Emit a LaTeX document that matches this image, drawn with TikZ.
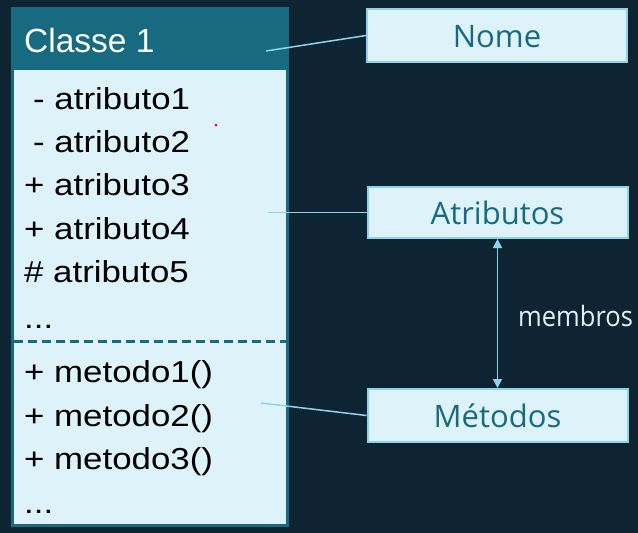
\documentclass[tikz,border=0pt]{standalone}
\usepackage{fontspec}
\usetikzlibrary{arrows.meta}
\newfontfamily\clsfont{Liberation Sans}
\newfontfamily\attrfont[FakeStretch=1.15]{Liberation Sans}
\newfontfamily\lblfont{Open Sans}
\newfontfamily\membfont[FakeStretch=0.91]{Open Sans}
\definecolor{bgc}{HTML}{0F2432}
\definecolor{teal}{HTML}{176A80}
\definecolor{lightfill}{HTML}{DEF2F9}
\definecolor{boxline}{HTML}{8ED3EE}
\tikzset{
  attr/.style={anchor=base west, inner sep=0pt, font=\attrfont\fontsize{30.3}{34}\selectfont, text=black},
  tag/.style={draw=boxline, line width=2pt, fill=lightfill, minimum width=260pt, inner sep=0pt,
    text height=23pt, text depth=0pt, text=teal, font=\lblfont\fontsize{31}{34}\selectfont},
  conn/.style={draw=boxline, line width=1.5pt}
}
\begin{document}
\begin{tikzpicture}[x=1pt,y=-1pt]
\fill[bgc] (0,0) rectangle (638,533);
\useasboundingbox (0,0) rectangle (638,533);
% class frame
\fill[teal] (11,7) rectangle (289,527);
\fill[lightfill] (14,70) rectangle (286,524);
\draw[teal, line width=3pt, dash pattern=on 9pt off 5pt] (14,341) -- (286,341);
\node[anchor=base west, inner sep=0pt, text=white, font=\clsfont\fontsize{33.5}{36}\selectfont] (cls) at (24,52) {Classe 1};
\node[attr] (a1) at (33,109) {- atributo1};
\node[attr] (a2) at (33,152) {- atributo2};
\node[attr] (a3) at (24,195) {+ atributo3};
\node[attr] (a4) at (24,239) {+ atributo4};
\node[attr] (a5) at (24,282) {\# atributo5};
\node[attr] (a6) at (24,328) {...};
\node[attr] (m1) at (24,382) {+ metodo1()};
\node[attr] (m2) at (24,426) {+ metodo2()};
\node[attr] (m3) at (24,469) {+ metodo3()};
\node[attr] (m4) at (24,513) {...};
\fill[red] (216,125) circle (1.5pt);
% tags
\node[tag, minimum height=53pt] (nome) at (497,35.5) {Nome};
\node[tag, minimum height=51pt] (atr) at (497.5,212.5) {Atributos};
\node[tag, minimum height=53pt] (met) at (497.5,415.5) {Métodos};
\coordinate (cn) at (266,51);
\coordinate (ca) at (268,212.5);
\coordinate (cm) at (261,403);
\draw[conn] (cn) -- (nome.west);
\draw[conn] (ca) -- (atr.west);
\draw[conn] (cm) -- (met.west);
\draw[conn, {Triangle[width=9pt,length=9pt]}-{Triangle[width=9pt,length=9pt]}] (atr.south) -- (met.north);
\node[anchor=base west, inner sep=0pt, text=lightfill, font=\membfont\fontsize{28}{30}\selectfont] (memb) at (518,326) {membros};
\end{tikzpicture}
\end{document}
